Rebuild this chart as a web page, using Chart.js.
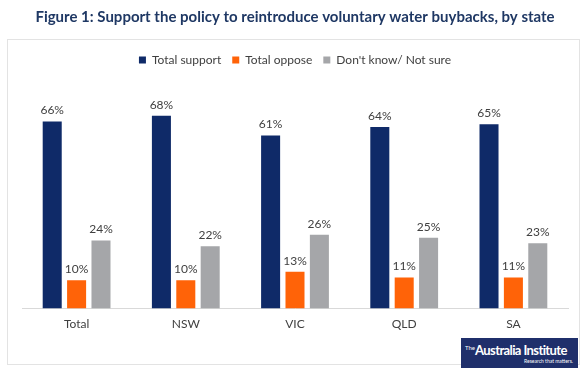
<!DOCTYPE html>
<html>
<head>
<meta charset="utf-8">
<script src="https://cdn.jsdelivr.net/npm/chart.js@4.4.0/dist/chart.umd.min.js"></script>
<style>
	body { margin: 0; background: #fff; }
	#wrap { position: relative; width: 586px; height: 376px; overflow: hidden; font-family: Lato, sans-serif; }
	#box { position: absolute; left: 7px; top: 39px; width: 571px; height: 324px; border: 1px solid #e3e3e3; }
	#chart { position: absolute; left: 0; top: 0; }
	#logo { position: absolute; left: 461px; top: 338px; width: 117px; height: 30px; background: #1f2f6b; color: #fff; }
	#logo .big { position: absolute; left: 4px; top: 4px; font-size: 13px; font-weight: bold; letter-spacing: -0.6px; white-space: nowrap; }
	#logo .big sup { font-size: 6px; font-weight: normal; vertical-align: 5px; letter-spacing: 0; }
	#logo .small { position: absolute; right: 5px; top: 20px; font-size: 5px; white-space: nowrap; }
</style>
</head>
<body>
<div id="wrap">
	<div id="box"></div>
	<canvas id="chart" width="586" height="376"></canvas>
	<div id="logo"><span class="big"><sup>The</sup>Australia Institute</span><span class="small">Research that matters.</span></div>
</div>
<script>
"use strict";
// chart values
let states = ["Total", "NSW", "VIC", "QLD", "SA"];
let totalSupport = [66, 68, 61, 64, 65];
let totalOppose = [10, 10, 13, 11, 11];
let dontKnow = [24, 22, 26, 25, 23];

// draw the % labels above each bar
let valueLabels = {
	id : "valueLabels",
	afterDatasetsDraw : function(chart) {
		let ctx = chart.ctx;
		ctx.save();
		ctx.font = "12px Lato, sans-serif";
		ctx.fillStyle = "#404040";
		ctx.textAlign = "center";
		ctx.textBaseline = "bottom";
		chart.data.datasets.forEach(function(ds, i) {
			chart.getDatasetMeta(i).data.forEach(function(bar, j) {
				ctx.fillText(ds.data[j] + "%", bar.x, bar.y - 5);
			});
		});
		ctx.restore();
	}
};

let chartData = {
	labels : states,
	datasets : [
		{ label : "Total support", data : totalSupport, backgroundColor : "#0f2a68" },
		{ label : "Total oppose", data : totalOppose, backgroundColor : "#ff6308" },
		{ label : "Don't know/ Not sure", data : dontKnow, backgroundColor : "#a5a6a9" }
	]
};

let chartOptions = {
	responsive : false,
	animation : false,
	categoryPercentage : 0.67,
	barPercentage : 0.78,
	layout : { padding : { left : 22, right : 18, top : 6, bottom : 45 } },
	plugins : {
		title : {
			display : true,
			text : "Figure 1: Support the policy to reintroduce voluntary water buybacks, by state",
			color : "#1f3864",
			font : { family : "Lato, sans-serif", size : 15, weight : "bold" },
			padding : { top : 2, bottom : 17 }
		},
		legend : {
			display : true,
			position : "top",
			labels : {
				boxWidth : 7,
				boxHeight : 7,
				padding : 11,
				color : "#404040",
				font : { family : "Lato, sans-serif", size : 12 }
			}
		},
		tooltip : { enabled : false }
	},
	scales : {
		x : {
			grid : { display : false },
			border : { color : "#d9d9d9" },
			ticks : { color : "#404040", font : { family : "Lato, sans-serif", size : 12 }, padding : 0 }
		},
		y : {
			display : false,
			min : 0,
			max : 82
		}
	}
};

let chart = new Chart(document.getElementById("chart"), {
	type : "bar",
	data : chartData,
	options : chartOptions,
	plugins : [valueLabels]
});
</script>
</body>
</html>
